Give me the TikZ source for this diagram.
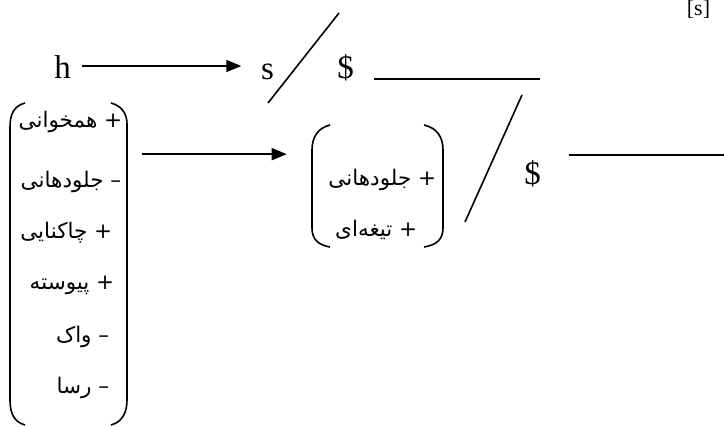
\documentclass[tikz,border=0pt]{standalone}
\usepackage{fontspec}
\setmainfont{Liberation Serif}
\newfontfamily\arabicfont[Script=Arabic]{DejaVu Sans}
\TeXXeTstate=1
\usetikzlibrary{arrows.meta,calc}
\begin{document}
\begin{tikzpicture}[x=1pt,y=-1pt,line width=1.6pt,
  lat/.style={font=\fontsize{33}{36}\selectfont,inner sep=0pt,anchor=base},
  small lat/.style={font=\fontsize{22}{24}\selectfont,inner sep=0pt,anchor=base},
  fa/.style={font=\arabicfont\fontsize{21.5}{24}\selectfont,inner sep=0pt,anchor=east},
  arr/.style={-{Triangle[length=15pt,width=12pt]}},
  brk/.style={line width=1.6pt},
  box/.style={draw=none,inner sep=0pt}]
\useasboundingbox (0,0) rectangle (724,427);

% top row
\node[lat] (h) at (62.5,79) {h};
\node[lat] (s) at (267.5,80) {s};
\node[lat] (d1) at (345.5,79) {\$};
\node[lat] (d2) at (532.5,185) {\$};
\node[small lat] (br) at (698.5,16) {[s]};

\draw[arr] ($(h.base east)+(10,-13)$) -- ($(s.base west)+(-19,-14)$);

% slashes and blank lines
\draw (339,13) -- (268,103);
\draw (522,95) -- (465,222);
\draw ($(d1.base east)+(19,0)$) -- (540,79);
\draw ($(d2.base east)+(27,-30)$) -- (724,155);

% big bracket
\node[box,minimum width=117pt,minimum height=322pt] (big) at (68.5,264) {};
\draw[brk] (25,103) .. controls (14,106) and (10,114) .. (10,127) -- (10,400)
  .. controls (10,413) and (14,422) .. (25,425);
\draw[brk] (111,103) .. controls (122,106) and (127,114) .. (127,124) -- (127,400)
  .. controls (127,413) and (122,422) .. (111,425);
\node[fa] (r1) at (123,122) {\beginR + همخوانی\endR};
\node[fa] (r2) at (122,182) {\beginR – جلودهانی\endR};
\node[fa] (r3) at (113,233) {\beginR + چاکنایی\endR};
\node[fa] (r4) at (115,285) {\beginR + پیوسته\endR};
\node[fa] (r5) at (110,337) {\beginR – واک\endR};
\node[fa] (r6) at (110,388) {\beginR – رسا\endR};

% small bracket
\node[box,minimum width=130pt,minimum height=122pt] (sm) at (377.5,186) {};
\draw[brk] (330,125) .. controls (318,128) and (312,137) .. (312,150) -- (312,228)
  .. controls (312,239) and (318,245) .. (330,247);
\draw[brk] (424,125) .. controls (437,128) and (443,137) .. (443,150) -- (443,228)
  .. controls (443,239) and (437,245) .. (424,247);
\node[fa] (t1) at (437,180) {\beginR + جلودهانی\endR};
\node[fa] (t2) at (418,230) {\beginR + تیغه‌ای\endR};

\draw[arr] ($(big.north east)+(14,52)$) -- ($(sm.north west)+(-25,30)$);
\end{tikzpicture}
\end{document}
